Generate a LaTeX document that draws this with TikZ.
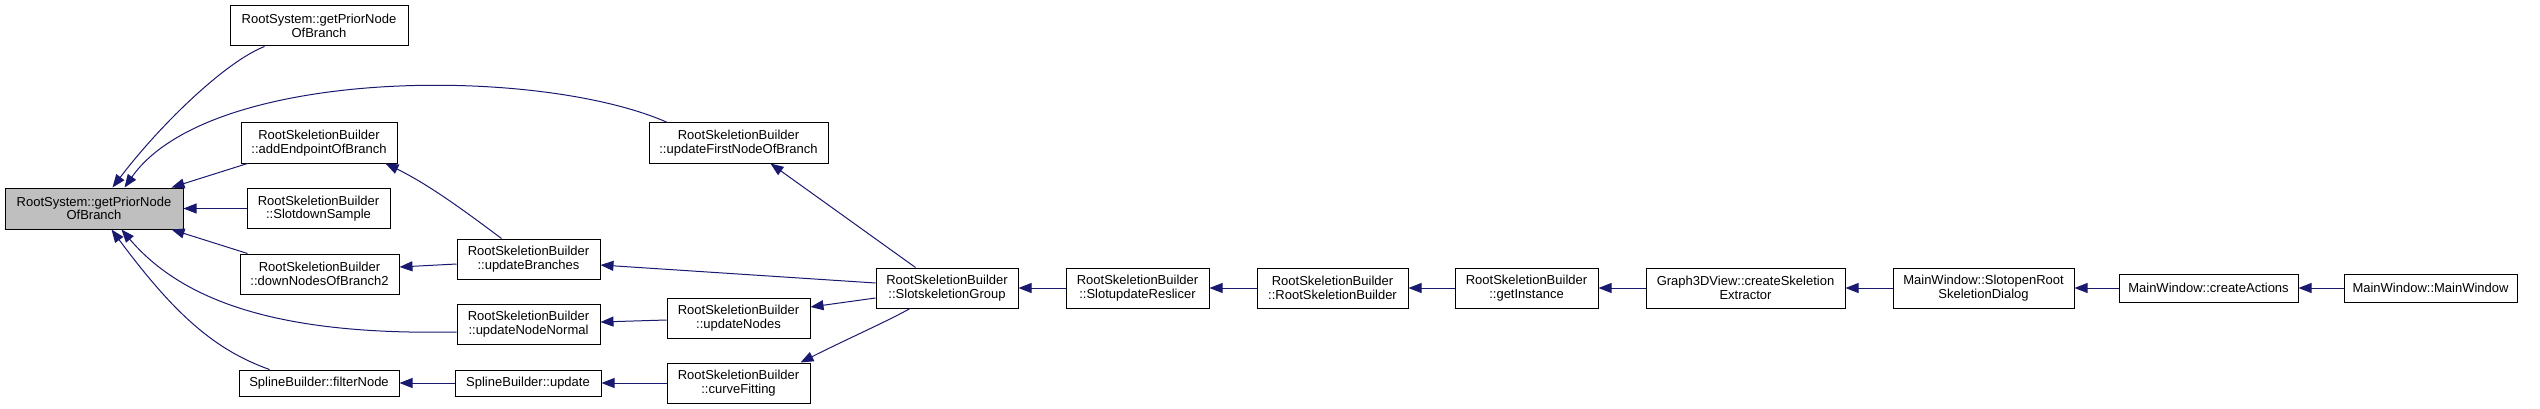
\documentclass[tikz,border=0pt]{standalone}
\usepackage{fontspec}
\setmainfont{Liberation Sans}
\usetikzlibrary{arrows.meta}
\definecolor{edgecol}{HTML}{191970}
\definecolor{mainfill}{HTML}{BFBFBF}
\begin{document}
\begin{tikzpicture}[x=1pt,y=-1pt,
  box/.style={draw=black, line width=1pt, fill=white, inner sep=0pt, align=center,
    font=\fontsize{13}{13.5}\selectfont},
  edge/.style={draw=edgecol, line width=1pt, -{Triangle[length=13pt,width=10pt]}},
]
\useasboundingbox[fill=white] (0,0) rectangle (2540,409);
% nodes
\node[box, fill=mainfill, minimum width=178pt, minimum height=41pt] (main) at (94,208.5) {RootSystem::getPriorNode\\OfBranch};
\node[box, minimum width=178pt, minimum height=40pt] (gp2) at (319,26) {RootSystem::getPriorNode\\OfBranch};
\node[box, minimum width=156pt, minimum height=40pt] (addEnd) at (319,143) {RootSkeletionBuilder\\::addEndpointOfBranch};
\node[box, minimum width=143pt, minimum height=40pt] (sdown) at (318.5,208.5) {RootSkeletionBuilder\\::SlotdownSample};
\node[box, minimum width=159pt, minimum height=40pt] (downN) at (319.5,274) {RootSkeletionBuilder\\::downNodesOfBranch2};
\node[box, minimum width=160pt, minimum height=26pt] (filterNode) at (319,383) {SplineBuilder::filterNode};
\node[box, minimum width=179pt, minimum height=40pt] (updFirst) at (738.5,143) {RootSkeletionBuilder\\::updateFirstNodeOfBranch};
\node[box, minimum width=143pt, minimum height=40pt] (updBranches) at (528.5,259) {RootSkeletionBuilder\\::updateBranches};
\node[box, minimum width=143pt, minimum height=40pt] (updNodeNormal) at (528.5,324) {RootSkeletionBuilder\\::updateNodeNormal};
\node[box, minimum width=146pt, minimum height=26pt] (splUpdate) at (528,383) {SplineBuilder::update};
\node[box, minimum width=143pt, minimum height=40pt] (updNodes) at (738.5,318) {RootSkeletionBuilder\\::updateNodes};
\node[box, minimum width=143pt, minimum height=40pt] (curveFitting) at (738.5,383) {RootSkeletionBuilder\\::curveFitting};
\node[box, minimum width=142pt, minimum height=40pt] (slotSkel) at (947,288) {RootSkeletionBuilder\\::SlotskeletionGroup};
\node[box, minimum width=143pt, minimum height=40pt] (reslicer) at (1137.5,288) {RootSkeletionBuilder\\::SlotupdateReslicer};
\node[box, minimum width=151pt, minimum height=40pt] (rsb) at (1332.5,288) {RootSkeletionBuilder\\::RootSkeletionBuilder};
\node[box, minimum width=143pt, minimum height=40pt] (getInst) at (1526.5,288) {RootSkeletionBuilder\\::getInstance};
\node[box, minimum width=199pt, minimum height=40pt] (g3d) at (1745.5,288) {Graph3DView::createSkeletion\\Extractor};
\node[box, minimum width=181pt, minimum height=40pt] (slotOpen) at (1983.5,288) {MainWindow::SlotopenRoot\\SkeletionDialog};
\node[box, minimum width=179pt, minimum height=28pt] (createActions) at (2208.5,288) {MainWindow::createActions};
\node[box, minimum width=173pt, minimum height=28pt] (mainWin) at (2430.5,288) {MainWindow::MainWindow};
% edges into main
\draw[edge] ([xshift=35pt]gp2.south west) .. controls (225,62) and (160,125) .. ([xshift=108pt]main.north west);
\draw[edge] ([xshift=19pt]updFirst.north west) .. controls (540,66) and (210,66) .. ([xshift=120pt]main.north west);
\draw[edge] ([xshift=7pt]addEnd.south west) -- ([xshift=167pt]main.north west);
\draw[edge] (sdown.west) -- (main.east);
\draw[edge] ([xshift=8pt]downN.north west) -- ([xshift=167pt]main.south west);
\draw[edge] ([yshift=-8pt]updNodeNormal.west) .. controls (300,335) and (190,310) .. ([xshift=117pt]main.south west);
\draw[edge] ([xshift=31pt]filterNode.north west) .. controls (215,350) and (175,315) .. ([xshift=107pt]main.south west);
% second level
\draw[edge] ([xshift=45pt]updBranches.north west) .. controls (470,215) and (430,185) .. ([xshift=-12pt]addEnd.south east);
\draw[edge] ([yshift=-5pt]updBranches.west) -- ([yshift=7pt]downN.east);
\draw[edge] (splUpdate.west) -- (filterNode.east);
% third level
\draw[edge] ([xshift=40pt]slotSkel.north west) -- ([xshift=-58pt]updFirst.south east);
\draw[edge] ([yshift=5pt]slotSkel.west) -- ([yshift=-6pt]updBranches.east);
\draw[edge] ([yshift=-10pt]slotSkel.west) -- ([yshift=11pt]updNodes.east);
\draw[edge] ([xshift=-37pt]slotSkel.south) .. controls (890,320) and (845,340) .. ([xshift=-10pt]curveFitting.north east);
\draw[edge] ([yshift=-2pt]updNodes.west) -- ([yshift=2pt]updNodeNormal.east);
\draw[edge] (curveFitting.west) -- (splUpdate.east);
% chain
\draw[edge] (reslicer.west) -- (slotSkel.east);
\draw[edge] (rsb.west) -- (reslicer.east);
\draw[edge] (getInst.west) -- (rsb.east);
\draw[edge] (g3d.west) -- (getInst.east);
\draw[edge] (slotOpen.west) -- (g3d.east);
\draw[edge] (createActions.west) -- (slotOpen.east);
\draw[edge] (mainWin.west) -- (createActions.east);
\end{tikzpicture}
\end{document}
